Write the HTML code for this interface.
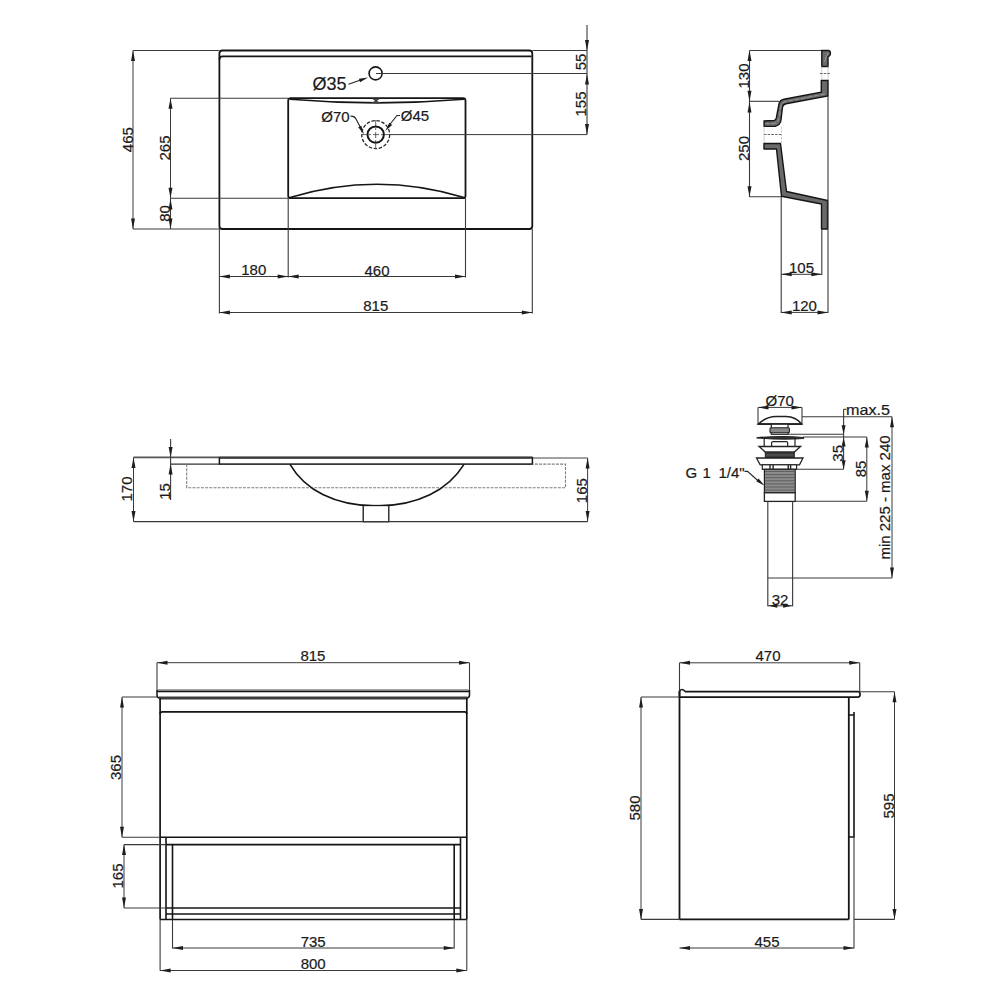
<!DOCTYPE html>
<html><head><meta charset="utf-8"><style>
html,body{margin:0;padding:0;background:#fff;}
svg{display:block;}
text{font-family:"Liberation Sans",sans-serif;}
</style></head><body>
<svg width="1000" height="1000" viewBox="0 0 1000 1000">
<rect width="1000" height="1000" fill="#fff"/>
<rect x="219.4" y="50.5" width="312.9" height="178.5" rx="3" fill="none" stroke="#151515" stroke-width="1.8"/>
<path d="M219.4,59.5 Q219.4,56.4 222.5,56.4 L531.5,56.4" fill="none" stroke="#151515" stroke-width="1.8"/>
<circle cx="375.6" cy="73.4" r="6.5" fill="none" stroke="#151515" stroke-width="1.6"/>
<line x1="376" y1="73.5" x2="587" y2="73.5" stroke="#3a3a3a" stroke-width="1.0" />
<text x="329.5" y="90" font-size="18" text-anchor="middle" fill="#1a1a1a" stroke="#1a1a1a" stroke-width="0.2">&#216;35</text>
<line x1="348.5" y1="84.2" x2="362" y2="79.5" stroke="#222" stroke-width="1.1" />
<polygon points="368.00,77.60 360.07,82.23 358.90,78.82" fill="#1e1e1e" stroke="none" stroke-width="0"/>
<path d="M290.7,98.2 L463,98.2 Q465.5,98.2 465.5,100.7 L465.5,195.7 Q465.5,198.2 463,198.2 L290.7,198.2 Q288.2,198.2 288.2,195.7 L288.2,100.7 Q288.2,98.2 290.7,98.2 Z" fill="none" stroke="#151515" stroke-width="1.8"/>
<path d="M290,99.3 Q377,106.5 464,99.3" fill="none" stroke="#151515" stroke-width="1.6"/>
<path d="M290,197.5 Q377,171 464,197.5" fill="none" stroke="#151515" stroke-width="1.7"/>
<path d="M371.5,98.6 L380.5,98.6 L377,100.8 L380.5,103 L371.5,103 L375,100.8 Z" fill="#444"/>
<circle cx="375.7" cy="134.6" r="8.2" fill="none" stroke="#151515" stroke-width="2"/>
<circle cx="375.7" cy="134.6" r="14" fill="none" stroke="#2a2a2a" stroke-width="1.3" stroke-dasharray="3.5,1.6"/>
<line x1="361" y1="134.6" x2="389" y2="134.6" stroke="#555" stroke-width="0.9" stroke-dasharray="6,2,2,2"/>
<line x1="375.7" y1="120" x2="375.7" y2="149" stroke="#555" stroke-width="0.9" stroke-dasharray="6,2,2,2"/>
<line x1="390" y1="134.6" x2="587" y2="134.6" stroke="#3a3a3a" stroke-width="1.0" />
<text x="335.5" y="121.5" font-size="15" text-anchor="middle" fill="#1a1a1a" stroke="#1a1a1a" stroke-width="0.2">&#216;70</text>
<path d="M350.5,116.2 Q354,115.5 356,119 L360.5,127.5" fill="none" stroke="#222" stroke-width="1.1"/>
<polygon points="364.00,134.50 358.22,127.37 361.40,125.70" fill="#1e1e1e" stroke="none" stroke-width="0"/>
<text x="415" y="121" font-size="15" text-anchor="middle" fill="#1a1a1a" stroke="#1a1a1a" stroke-width="0.2">&#216;45</text>
<path d="M400,115.5 L397,115.5 L389,125.5" fill="none" stroke="#222" stroke-width="1.1"/>
<polygon points="385.30,131.00 389.26,122.72 392.14,124.88" fill="#1e1e1e" stroke="none" stroke-width="0"/>
<line x1="133" y1="50.5" x2="219.4" y2="50.5" stroke="#3a3a3a" stroke-width="1.1" />
<line x1="133" y1="229" x2="219.4" y2="229" stroke="#3a3a3a" stroke-width="1.1" />
<line x1="133" y1="50.5" x2="133" y2="229" stroke="#3a3a3a" stroke-width="1.0" />
<polygon points="133.00,50.50 135.00,61.00 131.00,61.00" fill="#1e1e1e" stroke="none" stroke-width="0"/>
<polygon points="133.00,229.00 131.00,218.50 135.00,218.50" fill="#1e1e1e" stroke="none" stroke-width="0"/>
<text transform="translate(132.8,139.7) rotate(-90)" x="0" y="0" font-size="15" text-anchor="middle" fill="#1a1a1a" stroke="#1a1a1a" stroke-width="0.2">465</text>
<line x1="170.5" y1="98.2" x2="288.2" y2="98.2" stroke="#3a3a3a" stroke-width="1.1" />
<line x1="170.5" y1="198.2" x2="288.2" y2="198.2" stroke="#3a3a3a" stroke-width="1.1" />
<line x1="170.5" y1="98.2" x2="170.5" y2="198.2" stroke="#3a3a3a" stroke-width="1.0" />
<polygon points="170.50,98.20 172.50,108.70 168.50,108.70" fill="#1e1e1e" stroke="none" stroke-width="0"/>
<polygon points="170.50,198.20 168.50,187.70 172.50,187.70" fill="#1e1e1e" stroke="none" stroke-width="0"/>
<text transform="translate(169.8,148) rotate(-90)" x="0" y="0" font-size="15" text-anchor="middle" fill="#1a1a1a" stroke="#1a1a1a" stroke-width="0.2">265</text>
<line x1="170.5" y1="198.2" x2="170.5" y2="229" stroke="#3a3a3a" stroke-width="1.1" />
<polygon points="170.50,199.00 172.50,209.50 168.50,209.50" fill="#1e1e1e" stroke="none" stroke-width="0"/>
<polygon points="170.50,229.00 168.50,218.50 172.50,218.50" fill="#1e1e1e" stroke="none" stroke-width="0"/>
<text transform="translate(169.8,213.5) rotate(-90)" x="0" y="0" font-size="15" text-anchor="middle" fill="#1a1a1a" stroke="#1a1a1a" stroke-width="0.2">80</text>
<line x1="219.4" y1="229" x2="219.4" y2="313.6" stroke="#3a3a3a" stroke-width="1.1" />
<line x1="532.3" y1="229" x2="532.3" y2="313.6" stroke="#3a3a3a" stroke-width="1.1" />
<line x1="288.2" y1="198.2" x2="288.2" y2="277.5" stroke="#3a3a3a" stroke-width="1.1" />
<line x1="465.5" y1="198.2" x2="465.5" y2="277.5" stroke="#3a3a3a" stroke-width="1.1" />
<line x1="219.4" y1="276.5" x2="288.2" y2="276.5" stroke="#3a3a3a" stroke-width="1.0" />
<polygon points="219.40,276.50 229.90,274.50 229.90,278.50" fill="#1e1e1e" stroke="none" stroke-width="0"/>
<polygon points="288.20,276.50 277.70,278.50 277.70,274.50" fill="#1e1e1e" stroke="none" stroke-width="0"/>
<line x1="288.2" y1="276.5" x2="465.5" y2="276.5" stroke="#3a3a3a" stroke-width="1.0" />
<polygon points="288.20,276.50 298.70,274.50 298.70,278.50" fill="#1e1e1e" stroke="none" stroke-width="0"/>
<polygon points="465.50,276.50 455.00,278.50 455.00,274.50" fill="#1e1e1e" stroke="none" stroke-width="0"/>
<text x="253.8" y="275.4" font-size="15" text-anchor="middle" fill="#1a1a1a" stroke="#1a1a1a" stroke-width="0.2">180</text>
<text x="377" y="275.6" font-size="15" text-anchor="middle" fill="#1a1a1a" stroke="#1a1a1a" stroke-width="0.2">460</text>
<line x1="219.4" y1="312.5" x2="532.3" y2="312.5" stroke="#3a3a3a" stroke-width="1.0" />
<polygon points="219.40,312.50 229.90,310.50 229.90,314.50" fill="#1e1e1e" stroke="none" stroke-width="0"/>
<polygon points="532.30,312.50 521.80,314.50 521.80,310.50" fill="#1e1e1e" stroke="none" stroke-width="0"/>
<text x="375.8" y="311.4" font-size="15" text-anchor="middle" fill="#1a1a1a" stroke="#1a1a1a" stroke-width="0.2">815</text>
<line x1="532.3" y1="50.5" x2="587" y2="50.5" stroke="#3a3a3a" stroke-width="1.1" />
<line x1="587" y1="25" x2="587" y2="134.6" stroke="#3a3a3a" stroke-width="1.1" />
<polygon points="587.00,50.50 585.00,40.00 589.00,40.00" fill="#1e1e1e" stroke="none" stroke-width="0"/>
<polygon points="587.00,74.00 589.00,84.50 585.00,84.50" fill="#1e1e1e" stroke="none" stroke-width="0"/>
<polygon points="587.00,134.60 585.00,124.10 589.00,124.10" fill="#1e1e1e" stroke="none" stroke-width="0"/>
<text transform="translate(586,62) rotate(-90)" x="0" y="0" font-size="15" text-anchor="middle" fill="#1a1a1a" stroke="#1a1a1a" stroke-width="0.2">55</text>
<text transform="translate(586,104) rotate(-90)" x="0" y="0" font-size="15" text-anchor="middle" fill="#1a1a1a" stroke="#1a1a1a" stroke-width="0.2">155</text>
<line x1="749.5" y1="50.5" x2="822" y2="50.5" stroke="#3a3a3a" stroke-width="1.1" />
<line x1="749.5" y1="50.5" x2="749.5" y2="197" stroke="#3a3a3a" stroke-width="1.1" />
<polygon points="749.50,50.50 751.50,61.00 747.50,61.00" fill="#1e1e1e" stroke="none" stroke-width="0"/>
<polygon points="749.50,101.20 747.50,90.70 751.50,90.70" fill="#1e1e1e" stroke="none" stroke-width="0"/>
<polygon points="749.50,102.00 751.50,112.50 747.50,112.50" fill="#1e1e1e" stroke="none" stroke-width="0"/>
<polygon points="749.50,196.80 747.50,186.30 751.50,186.30" fill="#1e1e1e" stroke="none" stroke-width="0"/>
<line x1="749.5" y1="101.3" x2="779" y2="101.3" stroke="#3a3a3a" stroke-width="1.1" />
<line x1="749.5" y1="196.8" x2="781.2" y2="196.8" stroke="#3a3a3a" stroke-width="1.1" />
<text transform="translate(748.7,76) rotate(-90)" x="0" y="0" font-size="15" text-anchor="middle" fill="#1a1a1a" stroke="#1a1a1a" stroke-width="0.2">130</text>
<text transform="translate(748.7,148.5) rotate(-90)" x="0" y="0" font-size="15" text-anchor="middle" fill="#1a1a1a" stroke="#1a1a1a" stroke-width="0.2">250</text>
<path d="M821.8,50.5 L828.5,50.5 Q830.6,50.8 830.4,53.5 Q830.2,56.3 828,56.6 L828,66.5 L821.8,66.5 Z" fill="#6a6a6a" stroke="#151515" stroke-width="1.4"/>
<path d="M828,52.5 L824.5,62" fill="none" stroke="#aaa" stroke-width="0.6"/>
<line x1="821.8" y1="66.5" x2="821.8" y2="80.5" stroke="#bbb" stroke-width="0.7" />
<line x1="828" y1="66.5" x2="828" y2="80.5" stroke="#bbb" stroke-width="0.7" />
<line x1="820" y1="73.5" x2="831" y2="73.5" stroke="#666" stroke-width="1.0" stroke-dasharray="2.5,1.2"/>
<path d="M821.3,80.5 L828,80.5 L828,96 L786,103.8 Q783,104.5 782.5,107 L781,120 Q780.5,125 775,126.4 L764.1,126.4 L764.1,121 L774,120.5 Q776,120.2 776.3,118 L779,104 Q779.8,100 784,99.2 L821.3,92.1 Z" fill="#6a6a6a" stroke="#151515" stroke-width="1.4"/>
<path d="M825,94 L786,101.5 Q781.5,102.5 781,106 L779,118.5 Q778.5,122 774,123.6 L766,123.8" fill="none" stroke="#b0b0b0" stroke-width="0.6" stroke-dasharray="5,1.5"/>
<line x1="764" y1="134.5" x2="782" y2="134.5" stroke="#666" stroke-width="1.0" stroke-dasharray="2.5,1.2"/>
<line x1="781.5" y1="127" x2="781.5" y2="143" stroke="#aaa" stroke-width="0.7" stroke-dasharray="2,1.5"/>
<line x1="764.1" y1="126.4" x2="764.1" y2="143.5" stroke="#bbb" stroke-width="0.7" />
<path d="M764,143.5 L780.5,143.5 L786.5,191.5 L827.5,200.5 L827.5,229 L821.5,229 L821.5,204 L781.5,196.3 L776.5,149 L764,149 Z" fill="#6a6a6a" stroke="#151515" stroke-width="1.4" stroke-linejoin="round"/>
<line x1="828" y1="96" x2="828" y2="313" stroke="#3a3a3a" stroke-width="1.1" />
<line x1="781.2" y1="197" x2="781.2" y2="313" stroke="#3a3a3a" stroke-width="1.1" />
<line x1="821.8" y1="229" x2="821.8" y2="275" stroke="#3a3a3a" stroke-width="1.1" />
<line x1="781.2" y1="274.3" x2="821.8" y2="274.3" stroke="#3a3a3a" stroke-width="1.0" />
<polygon points="781.20,274.30 791.70,272.30 791.70,276.30" fill="#1e1e1e" stroke="none" stroke-width="0"/>
<polygon points="821.80,274.30 811.30,276.30 811.30,272.30" fill="#1e1e1e" stroke="none" stroke-width="0"/>
<text x="801.5" y="272.5" font-size="15" text-anchor="middle" fill="#1a1a1a" stroke="#1a1a1a" stroke-width="0.2">105</text>
<line x1="781.2" y1="312.4" x2="828" y2="312.4" stroke="#3a3a3a" stroke-width="1.0" />
<polygon points="781.20,312.40 791.70,310.40 791.70,314.40" fill="#1e1e1e" stroke="none" stroke-width="0"/>
<polygon points="828.00,312.40 817.50,314.40 817.50,310.40" fill="#1e1e1e" stroke="none" stroke-width="0"/>
<text x="804.4" y="311" font-size="15" text-anchor="middle" fill="#1a1a1a" stroke="#1a1a1a" stroke-width="0.2">120</text>
<line x1="133.5" y1="457.4" x2="219.4" y2="457.4" stroke="#555" stroke-width="1.6" />
<line x1="170.6" y1="464.1" x2="219.4" y2="464.1" stroke="#333" stroke-width="1.3" />
<line x1="532.4" y1="458" x2="587.6" y2="458" stroke="#444" stroke-width="1.1" />
<rect x="219.4" y="457.6" width="313" height="6.5" fill="none" stroke="#151515" stroke-width="1.5"/>
<line x1="219.4" y1="457.6" x2="532.4" y2="457.6" stroke="#3a3a3a" stroke-width="2.2" />
<path d="M186.7,464.1 L186.7,487.7 L565.5,487.7 L565.5,464.1 L532.4,464.1" fill="none" stroke="#808080" stroke-width="1.1" stroke-dasharray="3,1.2"/>
<path d="M290,464.3 C305,490 335,506 376.5,506 C418,506 448,490 464,464.3" fill="none" stroke="#151515" stroke-width="1.6"/>
<rect x="363.2" y="505.5" width="25.6" height="16.2" fill="#fff" stroke="#151515" stroke-width="1.3"/>
<line x1="133.5" y1="521.6" x2="587.6" y2="521.6" stroke="#3a3a3a" stroke-width="1.1" />
<line x1="133.5" y1="457.4" x2="133.5" y2="521.6" stroke="#3a3a3a" stroke-width="1.0" />
<polygon points="133.50,457.40 135.50,467.90 131.50,467.90" fill="#1e1e1e" stroke="none" stroke-width="0"/>
<polygon points="133.50,521.60 131.50,511.10 135.50,511.10" fill="#1e1e1e" stroke="none" stroke-width="0"/>
<text transform="translate(132,489) rotate(-90)" x="0" y="0" font-size="15" text-anchor="middle" fill="#1a1a1a" stroke="#1a1a1a" stroke-width="0.2">170</text>
<line x1="170.6" y1="439" x2="170.6" y2="500" stroke="#3a3a3a" stroke-width="1.1" />
<polygon points="170.60,457.40 168.60,446.90 172.60,446.90" fill="#1e1e1e" stroke="none" stroke-width="0"/>
<polygon points="170.60,464.10 172.60,474.60 168.60,474.60" fill="#1e1e1e" stroke="none" stroke-width="0"/>
<text transform="translate(169.6,491.5) rotate(-90)" x="0" y="0" font-size="15" text-anchor="middle" fill="#1a1a1a" stroke="#1a1a1a" stroke-width="0.2">15</text>
<line x1="587.6" y1="458" x2="587.6" y2="521.6" stroke="#3a3a3a" stroke-width="1.0" />
<polygon points="587.60,458.00 589.60,468.50 585.60,468.50" fill="#1e1e1e" stroke="none" stroke-width="0"/>
<polygon points="587.60,521.60 585.60,511.10 589.60,511.10" fill="#1e1e1e" stroke="none" stroke-width="0"/>
<text transform="translate(586.8,490.7) rotate(-90)" x="0" y="0" font-size="15" text-anchor="middle" fill="#1a1a1a" stroke="#1a1a1a" stroke-width="0.2">165</text>
<line x1="157" y1="662.7" x2="469.5" y2="662.7" stroke="#3a3a3a" stroke-width="1.0" />
<polygon points="157.00,662.70 167.50,660.70 167.50,664.70" fill="#1e1e1e" stroke="none" stroke-width="0"/>
<polygon points="469.50,662.70 459.00,664.70 459.00,660.70" fill="#1e1e1e" stroke="none" stroke-width="0"/>
<line x1="157" y1="662.7" x2="157" y2="690" stroke="#3a3a3a" stroke-width="1.1" />
<line x1="469.5" y1="662.7" x2="469.5" y2="690" stroke="#3a3a3a" stroke-width="1.1" />
<text x="312.9" y="661" font-size="15" text-anchor="middle" fill="#1a1a1a" stroke="#1a1a1a" stroke-width="0.2">815</text>
<line x1="158" y1="689.6" x2="468.5" y2="689.6" stroke="#999" stroke-width="1.0" />
<path d="M157,690 L157,695 Q157,698 160,698.2 L466.5,698.2 Q469.5,698 469.5,695 L469.5,690" fill="none" stroke="#151515" stroke-width="1.5"/>
<line x1="157" y1="691.4" x2="469.5" y2="691.4" stroke="#151515" stroke-width="1.6" />
<line x1="159" y1="697.9" x2="467.5" y2="697.9" stroke="#3c3c3c" stroke-width="3.0" />
<line x1="160.1" y1="698" x2="160.1" y2="919.5" stroke="#151515" stroke-width="1.7" />
<line x1="466.8" y1="698" x2="466.8" y2="919.5" stroke="#151515" stroke-width="1.7" />
<path d="M160.1,714 Q160.1,711.8 162.5,711.8 L464.5,711.8 Q466.8,711.8 466.8,714" fill="none" stroke="#151515" stroke-width="1.7"/>
<line x1="160.1" y1="837.3" x2="466.8" y2="837.3" stroke="#151515" stroke-width="1.6" />
<line x1="166" y1="844.6" x2="460.5" y2="844.6" stroke="#151515" stroke-width="1.6" />
<line x1="166" y1="908" x2="460.5" y2="908" stroke="#151515" stroke-width="1.6" />
<line x1="166" y1="914" x2="460.5" y2="914" stroke="#151515" stroke-width="1.6" />
<line x1="160.1" y1="919.5" x2="466.8" y2="919.5" stroke="#151515" stroke-width="1.6" />
<line x1="166" y1="837.3" x2="166" y2="919.5" stroke="#151515" stroke-width="1.6" />
<line x1="460.5" y1="837.3" x2="460.5" y2="919.5" stroke="#151515" stroke-width="1.6" />
<line x1="172.5" y1="844.6" x2="172.5" y2="919.5" stroke="#151515" stroke-width="1.6" />
<line x1="454.2" y1="844.6" x2="454.2" y2="919.5" stroke="#151515" stroke-width="1.6" />
<line x1="172.5" y1="919.5" x2="172.5" y2="948.5" stroke="#3a3a3a" stroke-width="1.1" />
<line x1="454.2" y1="919.5" x2="454.2" y2="948.5" stroke="#3a3a3a" stroke-width="1.1" />
<line x1="160.1" y1="919.5" x2="160.1" y2="970.5" stroke="#3a3a3a" stroke-width="1.1" />
<line x1="466.8" y1="919.5" x2="466.8" y2="970.5" stroke="#3a3a3a" stroke-width="1.1" />
<line x1="122" y1="697" x2="157" y2="697" stroke="#3a3a3a" stroke-width="1.1" />
<line x1="122" y1="837.3" x2="160.1" y2="837.3" stroke="#3a3a3a" stroke-width="1.1" />
<line x1="122" y1="697" x2="122" y2="837.3" stroke="#3a3a3a" stroke-width="1.0" />
<polygon points="122.00,697.00 124.00,707.50 120.00,707.50" fill="#1e1e1e" stroke="none" stroke-width="0"/>
<polygon points="122.00,837.30 120.00,826.80 124.00,826.80" fill="#1e1e1e" stroke="none" stroke-width="0"/>
<text transform="translate(121,767.5) rotate(-90)" x="0" y="0" font-size="15" text-anchor="middle" fill="#1a1a1a" stroke="#1a1a1a" stroke-width="0.2">365</text>
<line x1="124" y1="844.6" x2="166" y2="844.6" stroke="#3a3a3a" stroke-width="1.1" />
<line x1="124" y1="908" x2="166" y2="908" stroke="#3a3a3a" stroke-width="1.1" />
<line x1="124" y1="844.6" x2="124" y2="908" stroke="#3a3a3a" stroke-width="1.0" />
<polygon points="124.00,844.60 126.00,855.10 122.00,855.10" fill="#1e1e1e" stroke="none" stroke-width="0"/>
<polygon points="124.00,908.00 122.00,897.50 126.00,897.50" fill="#1e1e1e" stroke="none" stroke-width="0"/>
<text transform="translate(123,876) rotate(-90)" x="0" y="0" font-size="15" text-anchor="middle" fill="#1a1a1a" stroke="#1a1a1a" stroke-width="0.2">165</text>
<line x1="172.5" y1="948" x2="454.2" y2="948" stroke="#3a3a3a" stroke-width="1.0" />
<polygon points="172.50,948.00 183.00,946.00 183.00,950.00" fill="#1e1e1e" stroke="none" stroke-width="0"/>
<polygon points="454.20,948.00 443.70,950.00 443.70,946.00" fill="#1e1e1e" stroke="none" stroke-width="0"/>
<text x="313.2" y="947" font-size="15" text-anchor="middle" fill="#1a1a1a" stroke="#1a1a1a" stroke-width="0.2">735</text>
<line x1="160.1" y1="970.5" x2="466.8" y2="970.5" stroke="#3a3a3a" stroke-width="1.0" />
<polygon points="160.10,970.50 170.60,968.50 170.60,972.50" fill="#1e1e1e" stroke="none" stroke-width="0"/>
<polygon points="466.80,970.50 456.30,972.50 456.30,968.50" fill="#1e1e1e" stroke="none" stroke-width="0"/>
<text x="313.2" y="969" font-size="15" text-anchor="middle" fill="#1a1a1a" stroke="#1a1a1a" stroke-width="0.2">800</text>
<line x1="679.5" y1="662.8" x2="859.7" y2="662.8" stroke="#3a3a3a" stroke-width="1.0" />
<polygon points="679.50,662.80 690.00,660.80 690.00,664.80" fill="#1e1e1e" stroke="none" stroke-width="0"/>
<polygon points="859.70,662.80 849.20,664.80 849.20,660.80" fill="#1e1e1e" stroke="none" stroke-width="0"/>
<line x1="679.5" y1="662.8" x2="679.5" y2="691" stroke="#3a3a3a" stroke-width="1.1" />
<line x1="859.7" y1="662.8" x2="859.7" y2="691" stroke="#3a3a3a" stroke-width="1.1" />
<text x="768" y="661" font-size="15" text-anchor="middle" fill="#1a1a1a" stroke="#1a1a1a" stroke-width="0.2">470</text>
<path d="M685,691.7 L858,691.7 Q860,691.7 860,694 L860,695 Q860,697.2 857.5,697.2 L679.5,697.2 L679.5,691.5 Q680,689.5 682,689.5 Q684,689.5 685,691.7" fill="none" stroke="#151515" stroke-width="1.7"/>
<line x1="679.5" y1="691" x2="679.5" y2="919.4" stroke="#151515" stroke-width="1.8" />
<line x1="679.5" y1="919.4" x2="848.8" y2="919.4" stroke="#151515" stroke-width="1.8" />
<line x1="848.8" y1="697" x2="848.8" y2="919.4" stroke="#151515" stroke-width="1.8" />
<path d="M848.8,715 L854,715 M854,712 L854,837 L848.8,837" fill="none" stroke="#151515" stroke-width="1.6"/>
<line x1="854" y1="837" x2="854" y2="948.5" stroke="#3a3a3a" stroke-width="1.1" />
<line x1="641" y1="697" x2="679.5" y2="697" stroke="#3a3a3a" stroke-width="1.1" />
<line x1="641" y1="919.4" x2="679.5" y2="919.4" stroke="#3a3a3a" stroke-width="1.1" />
<line x1="641" y1="697" x2="641" y2="919.4" stroke="#3a3a3a" stroke-width="1.0" />
<polygon points="641.00,697.00 643.00,707.50 639.00,707.50" fill="#1e1e1e" stroke="none" stroke-width="0"/>
<polygon points="641.00,919.40 639.00,908.90 643.00,908.90" fill="#1e1e1e" stroke="none" stroke-width="0"/>
<text transform="translate(640,808) rotate(-90)" x="0" y="0" font-size="15" text-anchor="middle" fill="#1a1a1a" stroke="#1a1a1a" stroke-width="0.2">580</text>
<line x1="860" y1="691.7" x2="894.5" y2="691.7" stroke="#3a3a3a" stroke-width="1.1" />
<line x1="854" y1="919.4" x2="894.5" y2="919.4" stroke="#3a3a3a" stroke-width="1.1" />
<line x1="894.5" y1="691.7" x2="894.5" y2="919.4" stroke="#3a3a3a" stroke-width="1.0" />
<polygon points="894.50,691.70 896.50,702.20 892.50,702.20" fill="#1e1e1e" stroke="none" stroke-width="0"/>
<polygon points="894.50,919.40 892.50,908.90 896.50,908.90" fill="#1e1e1e" stroke="none" stroke-width="0"/>
<text transform="translate(893.6,806) rotate(-90)" x="0" y="0" font-size="15" text-anchor="middle" fill="#1a1a1a" stroke="#1a1a1a" stroke-width="0.2">595</text>
<line x1="679.5" y1="948" x2="854" y2="948" stroke="#3a3a3a" stroke-width="1.0" />
<polygon points="679.50,948.00 690.00,946.00 690.00,950.00" fill="#1e1e1e" stroke="none" stroke-width="0"/>
<polygon points="854.00,948.00 843.50,950.00 843.50,946.00" fill="#1e1e1e" stroke="none" stroke-width="0"/>
<text x="767" y="946.5" font-size="15" text-anchor="middle" fill="#1a1a1a" stroke="#1a1a1a" stroke-width="0.2">455</text>
<line x1="758" y1="407.4" x2="802" y2="407.4" stroke="#3a3a3a" stroke-width="1.0" />
<polygon points="758.00,407.40 768.50,405.40 768.50,409.40" fill="#1e1e1e" stroke="none" stroke-width="0"/>
<polygon points="802.00,407.40 791.50,409.40 791.50,405.40" fill="#1e1e1e" stroke="none" stroke-width="0"/>
<line x1="758" y1="407.4" x2="758" y2="424.2" stroke="#3a3a3a" stroke-width="1.1" />
<line x1="802" y1="407.4" x2="802" y2="424.2" stroke="#3a3a3a" stroke-width="1.1" />
<text x="779.8" y="405.6" font-size="15" text-anchor="middle" fill="#1a1a1a" stroke="#1a1a1a" stroke-width="0.2">&#216;70</text>
<path d="M758.3,424 C763,419.5 768,416.8 776,416.6 L786,416.6 C793,416.8 798,419.5 801.7,424 Z" fill="#fff" stroke="#222" stroke-width="1.5"/>
<line x1="758" y1="424.1" x2="802" y2="424.1" stroke="#222" stroke-width="1.6" />
<rect x="771.3" y="424.2" width="16.7" height="10.1" fill="#fff" stroke="#222" stroke-width="1.2"/>
<rect x="770" y="427.8" width="19.4" height="5" rx="1" fill="#8a8a8a" stroke="#222" stroke-width="1.1"/>
<path d="M756.5,437.8 Q780,435.4 803.5,437.5 L803.5,438.5 Q780,440 756.5,437.8 Z" fill="#333" stroke="#222" stroke-width="1.2"/>
<line x1="764.2" y1="438.5" x2="764.2" y2="446.5" stroke="#222" stroke-width="1.2" />
<line x1="795" y1="438.5" x2="795" y2="446.5" stroke="#222" stroke-width="1.2" />
<path d="M771.6,446.5 L771.6,443 Q771.6,441.6 773,441.6 L786.3,441.6 Q787.7,441.6 787.7,443 L787.7,446.5" fill="none" stroke="#222" stroke-width="1.2"/>
<path d="M759,446.5 L800.6,446.5 L794.3,452.1 L765.3,452.1 Z" fill="#fff" stroke="#222" stroke-width="1.3"/>
<rect x="765.3" y="452.1" width="29" height="5.9" fill="#3a3a3a" stroke="#222" stroke-width="1"/>
<line x1="766" y1="455" x2="793.5" y2="455" stroke="#777" stroke-width="0.6" />
<path d="M756.5,458 L803,458 L799.5,464.8 L760.2,464.8 Z" fill="#fff" stroke="#222" stroke-width="1.3"/>
<rect x="762.3" y="464.8" width="34.3" height="4.5" fill="#fff" stroke="#222" stroke-width="1.2"/>
<line x1="770" y1="465" x2="770" y2="469.2" stroke="#222" stroke-width="1.4" />
<line x1="773.1" y1="465" x2="773.1" y2="469.2" stroke="#222" stroke-width="1.4" />
<line x1="788.2" y1="465" x2="788.2" y2="469.2" stroke="#222" stroke-width="1.4" />
<line x1="790.6" y1="465" x2="790.6" y2="469.2" stroke="#222" stroke-width="1.4" />
<rect x="764.4" y="469.3" width="30.8" height="23.5" fill="#8c8c8c" stroke="#222" stroke-width="1.2"/>
<line x1="765" y1="471.5" x2="794.6" y2="471.5" stroke="#5a5a5a" stroke-width="0.9" />
<line x1="765" y1="474.6" x2="794.6" y2="474.6" stroke="#5a5a5a" stroke-width="0.9" />
<line x1="765" y1="477.7" x2="794.6" y2="477.7" stroke="#5a5a5a" stroke-width="0.9" />
<line x1="765" y1="480.8" x2="794.6" y2="480.8" stroke="#5a5a5a" stroke-width="0.9" />
<line x1="765" y1="483.9" x2="794.6" y2="483.9" stroke="#5a5a5a" stroke-width="0.9" />
<line x1="765" y1="487.0" x2="794.6" y2="487.0" stroke="#5a5a5a" stroke-width="0.9" />
<line x1="765" y1="490.1" x2="794.6" y2="490.1" stroke="#5a5a5a" stroke-width="0.9" />
<rect x="764.4" y="492.8" width="30.8" height="8.6" fill="#fff" stroke="#222" stroke-width="1.3"/>
<line x1="767.8" y1="501.4" x2="767.8" y2="606.2" stroke="#444" stroke-width="1.2" />
<line x1="792.6" y1="501.4" x2="792.6" y2="606.2" stroke="#444" stroke-width="1.2" />
<line x1="767.5" y1="578" x2="892" y2="578" stroke="#3a3a3a" stroke-width="1.1" />
<line x1="767.8" y1="605.8" x2="792.6" y2="605.8" stroke="#3a3a3a" stroke-width="1.0" />
<polygon points="768.30,605.80 777.30,603.90 777.30,607.70" fill="#1e1e1e" stroke="none" stroke-width="0"/>
<polygon points="792.10,605.80 783.10,607.70 783.10,603.90" fill="#1e1e1e" stroke="none" stroke-width="0"/>
<text x="780" y="604.5" font-size="15" text-anchor="middle" fill="#1a1a1a" stroke="#1a1a1a" stroke-width="0.2">32</text>
<text x="685.5" y="478" font-size="15" text-anchor="start" fill="#1a1a1a" stroke="#1a1a1a" stroke-width="0.2">G</text>
<text x="702.5" y="478" font-size="15" text-anchor="start" fill="#1a1a1a" stroke="#1a1a1a" stroke-width="0.2">1</text>
<text x="744.6" y="478" font-size="15" text-anchor="end" fill="#1a1a1a" stroke="#1a1a1a" stroke-width="0.2">1/4"</text>
<path d="M744.5,471.4 L747.5,471.4 L760,482.5" fill="none" stroke="#222" stroke-width="1.1"/>
<polygon points="764.40,485.60 756.30,481.29 758.58,478.50" fill="#1e1e1e" stroke="none" stroke-width="0"/>
<line x1="802" y1="416.7" x2="892" y2="416.7" stroke="#3a3a3a" stroke-width="1.1" />
<line x1="843.6" y1="409.3" x2="843.6" y2="469.2" stroke="#3a3a3a" stroke-width="1.1" />
<line x1="843.6" y1="409.3" x2="846.5" y2="409.3" stroke="#3a3a3a" stroke-width="1.1" />
<polygon points="843.60,434.30 841.60,425.30 845.60,425.30" fill="#1e1e1e" stroke="none" stroke-width="0"/>
<line x1="788" y1="434.3" x2="843.6" y2="434.3" stroke="#3a3a3a" stroke-width="1.1" />
<line x1="803" y1="437" x2="866.8" y2="437" stroke="#3a3a3a" stroke-width="1.1" />
<polygon points="843.60,437.40 845.60,446.40 841.60,446.40" fill="#1e1e1e" stroke="none" stroke-width="0"/>
<polygon points="843.60,469.20 841.60,460.20 845.60,460.20" fill="#1e1e1e" stroke="none" stroke-width="0"/>
<line x1="796.6" y1="469.3" x2="843.6" y2="469.3" stroke="#3a3a3a" stroke-width="1.1" />
<text transform="translate(842.6,453.3) rotate(-90)" x="0" y="0" font-size="15" text-anchor="middle" fill="#1a1a1a" stroke="#1a1a1a" stroke-width="0.2">35</text>
<line x1="866.8" y1="437" x2="866.8" y2="501.3" stroke="#3a3a3a" stroke-width="1.0" />
<polygon points="866.80,437.00 868.80,447.50 864.80,447.50" fill="#1e1e1e" stroke="none" stroke-width="0"/>
<polygon points="866.80,501.30 864.80,490.80 868.80,490.80" fill="#1e1e1e" stroke="none" stroke-width="0"/>
<line x1="795.2" y1="501.3" x2="866.8" y2="501.3" stroke="#3a3a3a" stroke-width="1.1" />
<text transform="translate(865.6,469) rotate(-90)" x="0" y="0" font-size="15" text-anchor="middle" fill="#1a1a1a" stroke="#1a1a1a" stroke-width="0.2">85</text>
<line x1="892" y1="416.7" x2="892" y2="578" stroke="#3a3a3a" stroke-width="1.0" />
<polygon points="892.00,416.70 894.00,427.20 890.00,427.20" fill="#1e1e1e" stroke="none" stroke-width="0"/>
<polygon points="892.00,578.00 890.00,567.50 894.00,567.50" fill="#1e1e1e" stroke="none" stroke-width="0"/>
<text transform="translate(890.4,497.5) rotate(-90)" x="0" y="0" font-size="15" text-anchor="middle" fill="#1a1a1a" stroke="#1a1a1a" stroke-width="0.2">min 225 - max 240</text>
<text x="846" y="414.6" font-size="15" text-anchor="start" fill="#1a1a1a" stroke="#1a1a1a" stroke-width="0.2" textLength="44" lengthAdjust="spacingAndGlyphs">max.5</text>
</svg></body></html>
